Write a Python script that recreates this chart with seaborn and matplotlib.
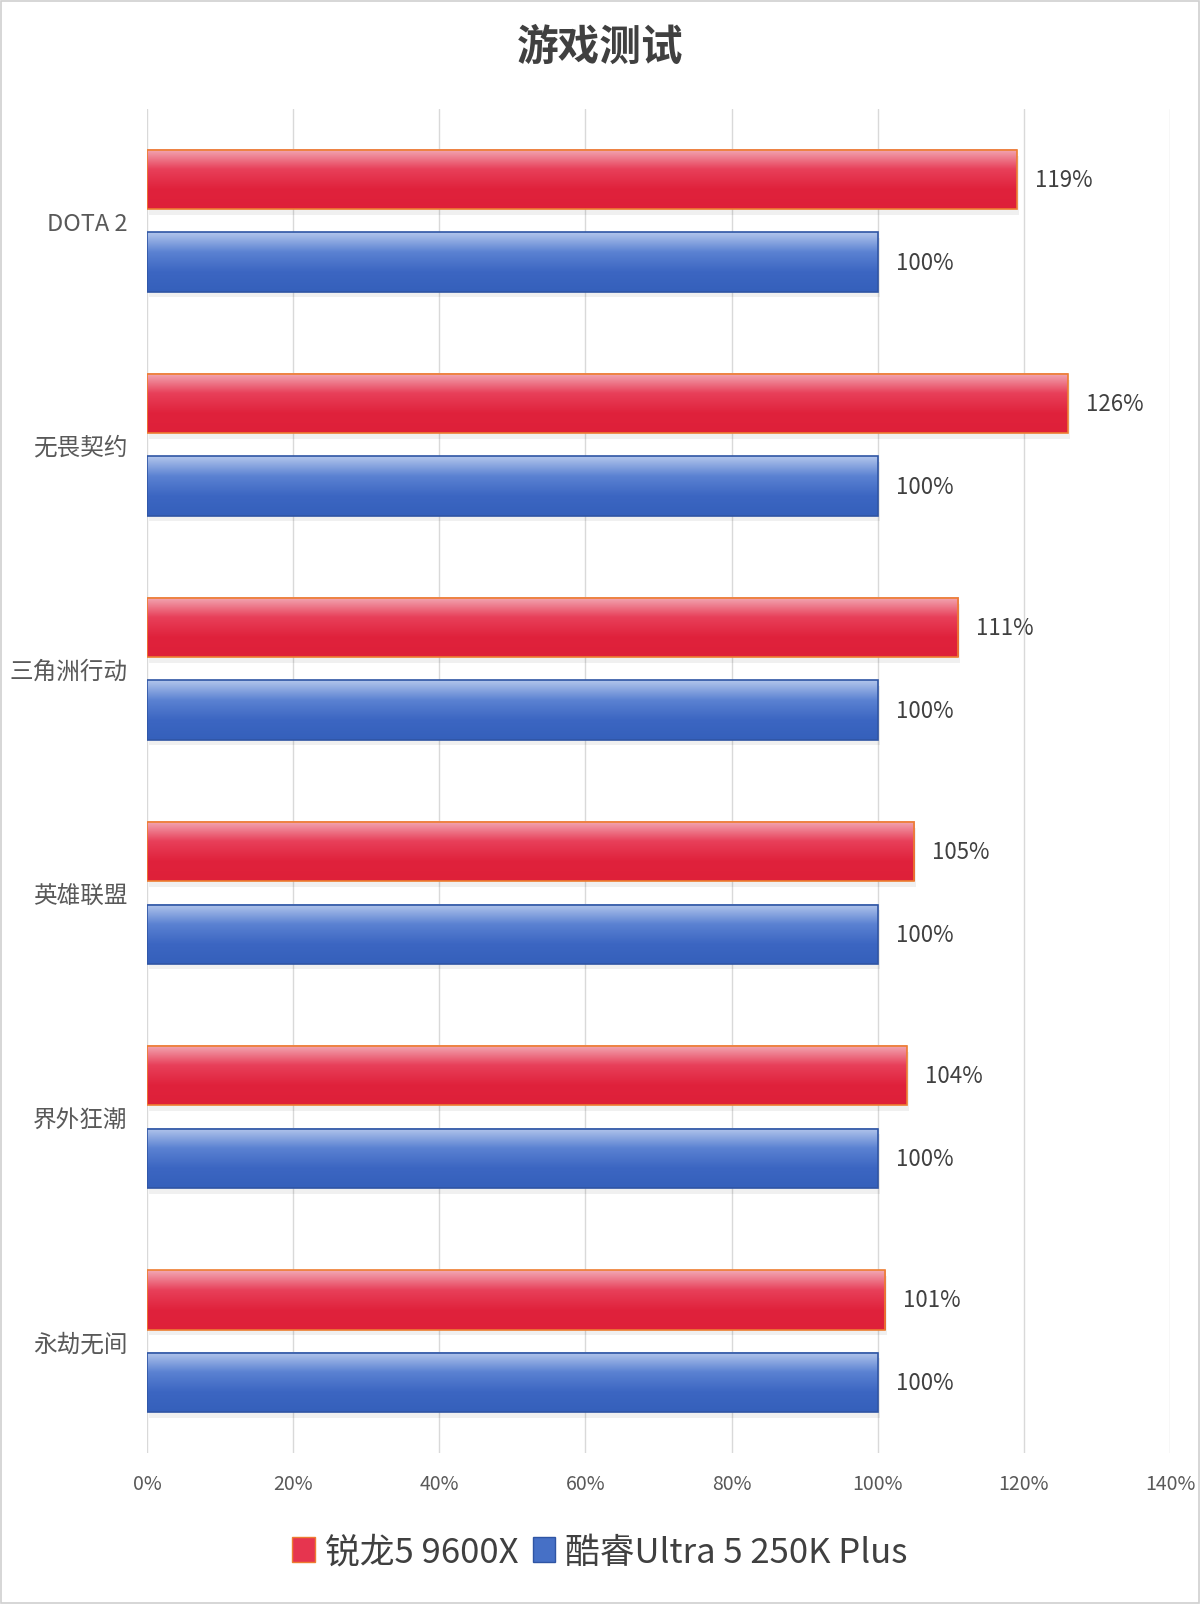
import numpy as np
import pandas as pd
import seaborn as sns
import matplotlib.pyplot as plt
from matplotlib.patches import Patch, Rectangle
from matplotlib.colors import LinearSegmentedColormap
from matplotlib.ticker import FuncFormatter

# Data
games = ["DOTA 2", "无畏契约", "三角洲行动", "英雄联盟", "界外狂潮", "永劫无间"]
amd = [119, 126, 111, 105, 104, 101]
intel = [100, 100, 100, 100, 100, 100]
series = ["锐龙5 9600X", "酷睿Ultra 5 250K Plus"]

df = pd.DataFrame({
    "game": games * 2,
    "score": amd + intel,
    "cpu": [series[0]] * len(games) + [series[1]] * len(games),
})

sns.set_theme(style="white")
plt.rcParams['font.family'] = ['Noto Sans CJK SC', 'DejaVu Sans']

fig = plt.figure(figsize=(12, 16.06), dpi=100)
ax = fig.add_axes([0.1225, 0.0946, 0.8525, 0.837])

red_edge = "#ed7d31"
blue_edge = "#2f55a4"
sns.barplot(data=df, y="game", x="score", hue="cpu", hue_order=series,
            palette=["#e2243f", "#3a64c0"], orient="h", width=0.736, gap=0.28,
            ax=ax, legend=False, zorder=3)

# gradient fill on the bars
cmaps = {
    0: LinearSegmentedColormap.from_list("r", ["#f2aab5", "#e8405a", "#e0223c", "#de2039"]),
    1: LinearSegmentedColormap.from_list("b", ["#b3c6ec", "#5b82d2", "#3c66c2", "#3560bb"]),
}
grad = np.linspace(0, 1, 256).reshape(-1, 1)
n = len(games)
for i, p in enumerate(ax.patches):
    k = 0 if i < n else 1
    x0, y0, w, h = p.get_x(), p.get_y(), p.get_width(), p.get_height()
    # soft shadow
    ax.add_patch(Rectangle((x0 + 0.3, y0 + 0.025), w, h, facecolor="#000000",
                           alpha=0.06, edgecolor="none", zorder=2))
    ax.imshow(grad, cmap=cmaps[k], extent=(x0, x0 + w, y0 + h, y0),
              aspect="auto", origin="upper", zorder=3.5)
    p.set_facecolor("none")
    p.set_edgecolor(red_edge if k == 0 else blue_edge)
    p.set_linewidth(1.2)
    p.set_zorder(4)

for cont in ax.containers:
    ax.bar_label(cont, labels=[f"{int(round(v))}%" for v in cont.datavalues],
                 padding=13, fontsize=16, color="#404040")

ax.set_xlim(0, 140)
ax.set_ylim(5.5, -0.5)
ax.set_xticks(range(0, 141, 20))
ax.xaxis.set_major_formatter(FuncFormatter(lambda v, _: f"{int(v)}%"))
ax.grid(axis="x", color="#d9d9d9", linewidth=1, zorder=0)
ax.set_axisbelow(True)
for s in ax.spines.values():
    s.set_visible(False)
ax.tick_params(axis="both", length=0, labelcolor="#595959")
ax.tick_params(axis="x", pad=14, labelsize=14)
ax.tick_params(axis="y", pad=14, labelsize=17)
ax.set_xlabel("")
ax.set_ylabel("")

fig.text(0.5, 0.970, "游戏测试", ha="center", va="center", fontsize=30,
         fontweight="bold", color="#404040")

handles = [Patch(facecolor="#e6354f", edgecolor=red_edge, label=series[0]),
           Patch(facecolor="#4670c6", edgecolor=blue_edge, label=series[1])]
fig.legend(handles=handles, loc="center", bbox_to_anchor=(0.5, 0.033), ncol=2,
           frameon=False, fontsize=25, handlelength=0.65, handleheight=0.75,
           handletextpad=0.3, columnspacing=0.4, labelcolor="#404040")

fig.patches.append(Rectangle((0.001, 0.001), 0.998, 0.998, transform=fig.transFigure,
                             fill=False, edgecolor="#d0d0d0", linewidth=1.2))

fig.savefig("out.png", dpi=100)
